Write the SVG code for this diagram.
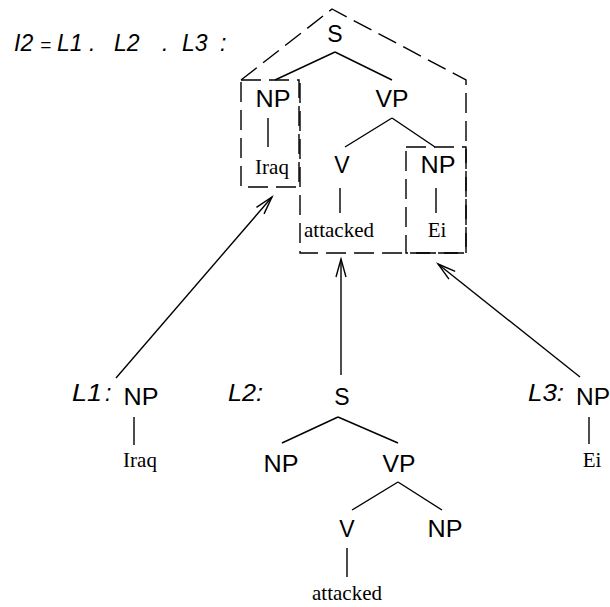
<svg xmlns="http://www.w3.org/2000/svg" width="610" height="607" viewBox="0 0 610 607">
<style>
.s{font-family:"Liberation Sans",Arial,sans-serif;font-size:23px;text-anchor:middle;fill:#000}
.i{font-family:"Liberation Sans",Arial,sans-serif;font-size:23px;font-style:italic;fill:#000}
.w{font-family:"Liberation Serif","Times New Roman",serif;font-size:21px;text-anchor:middle;fill:#000}
.e{stroke:#000;stroke-width:1.4;fill:none}
.d{stroke:#000;stroke-width:1.4;fill:none;stroke-dasharray:20 8}
</style>
<defs>
<marker id="ah" markerUnits="userSpaceOnUse" markerWidth="20" markerHeight="12" refX="18" refY="5" orient="auto" overflow="visible">
<path d="M0,0 L18,5 L0,10" fill="none" stroke="#000" stroke-width="1.4"/>
</marker>
</defs>
<rect width="610" height="607" fill="#fff"/>
<text class="i" y="51"><tspan x="14">I2</tspan><tspan x="40" font-size="19">=</tspan><tspan x="57">L1</tspan><tspan x="89">.</tspan><tspan x="114">L2</tspan><tspan x="162">.</tspan><tspan x="182">L3</tspan><tspan x="220">:</tspan></text>
<g id="i2tree">
<g id="dashes">
<path class="d" d="M241,80 L332,9 L466,80 L466,253 L300,253 L300,80"/>
<rect class="d" x="241" y="80" width="58" height="107"/>
<rect class="d" x="406" y="147" width="60" height="106"/>
</g>
<g id="t-S"><text class="s" x="335" y="42">S</text></g>
<g id="t-NP1"><text class="s" x="273" y="107" textLength="35" lengthAdjust="spacingAndGlyphs">NP</text></g>
<g id="t-VP"><text class="s" x="392" y="107" textLength="33" lengthAdjust="spacingAndGlyphs">VP</text></g>
<g id="t-V"><text class="s" x="342" y="173">V</text></g>
<g id="t-NP2"><text class="s" x="438" y="173" textLength="35" lengthAdjust="spacingAndGlyphs">NP</text></g>
<g id="t-Iraq"><text class="w" x="272" y="174">Iraq</text></g>
<g id="t-attacked"><text class="w" x="339" y="237">attacked</text></g>
<g id="t-Ei"><text class="w" x="437" y="237">Ei</text></g>
</g>
<g id="L1">
<text class="i" y="401"><tspan x="72" textLength="30" lengthAdjust="spacingAndGlyphs">L1</tspan><tspan x="105">:</tspan></text>
<text class="s" x="141" y="405" textLength="35" lengthAdjust="spacingAndGlyphs">NP</text>
<text class="w" x="140" y="467">Iraq</text>
</g>
<g id="L2">
<text class="i" x="228" y="401" textLength="35" lengthAdjust="spacingAndGlyphs">L2:</text>
<text class="s" x="342" y="405">S</text>
<text class="s" x="281" y="472" textLength="35" lengthAdjust="spacingAndGlyphs">NP</text>
<text class="s" x="399" y="472" textLength="33" lengthAdjust="spacingAndGlyphs">VP</text>
<text class="s" x="347" y="537">V</text>
<text class="s" x="445" y="537" textLength="35" lengthAdjust="spacingAndGlyphs">NP</text>
<text class="w" x="347" y="600">attacked</text>
</g>
<g id="L3">
<text class="i" x="528" y="401" textLength="36" lengthAdjust="spacingAndGlyphs">L3:</text>
<text class="s" x="593" y="405" textLength="34" lengthAdjust="spacingAndGlyphs">NP</text>
<text class="w" x="592" y="467">Ei</text>
</g>
<g id="connectors">
<path class="e" d="M335,52 L275,80 M335,52 L392,80 M392,118 L345,147 M392,118 L435,147 M268,118 L268,147 M340,188 L340,213 M436,188 L436,213"/>
<path class="e" d="M134,417 L134,445"/>
<path class="e" d="M338,417 L282,443 M338,417 L398,443 M398,482 L352,510 M398,482 L442,510 M347,548 L347,577"/>
<path class="e" d="M589,417 L589,444"/>
<line class="e" x1="116" y1="378" x2="272" y2="197" marker-end="url(#ah)"/>
<line class="e" x1="341" y1="375" x2="341" y2="259" marker-end="url(#ah)"/>
<line class="e" x1="580" y1="377" x2="438" y2="264" marker-end="url(#ah)"/>
</g>
</svg>
